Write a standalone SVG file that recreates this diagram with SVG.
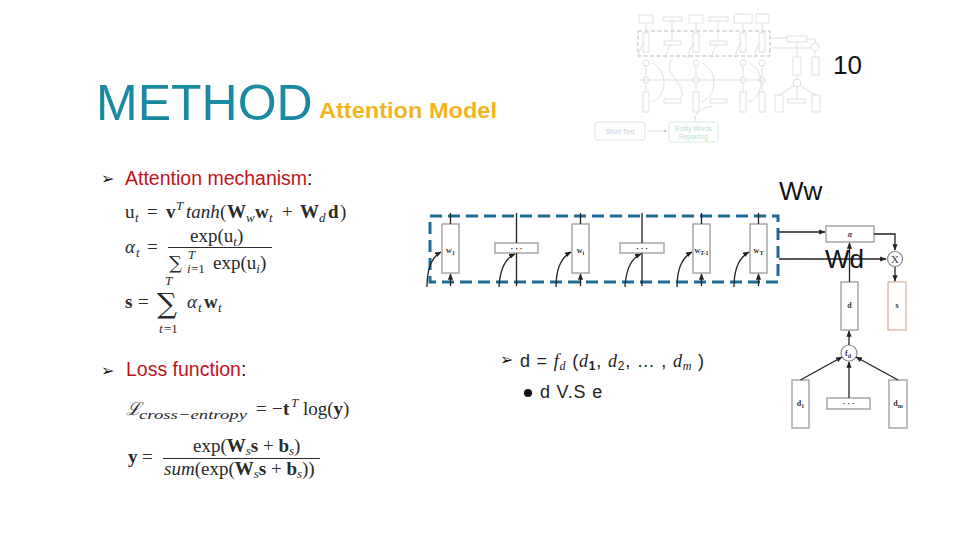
<svg xmlns="http://www.w3.org/2000/svg" width="960" height="540" viewBox="0 0 960 540">
<defs>
<marker id="ah" viewBox="0 0 10 10" refX="9" refY="5" markerWidth="5" markerHeight="5" orient="auto-start-reverse"><path d="M0,1 L10,5 L0,9 z" fill="#222"/></marker>
<marker id="ahs" viewBox="0 0 10 10" refX="9" refY="5" markerWidth="4" markerHeight="4" orient="auto"><path d="M0,1 L10,5 L0,9 z" fill="#9aa"/></marker>
<style>
.title{font-family:"Liberation Sans",Arial,sans-serif;font-size:50px;fill:#1b8aa0}
.sub{font-family:"Liberation Sans",Arial,sans-serif;font-weight:bold;font-size:22px;fill:#f0b51e}
.pg{font-family:"Liberation Sans",Arial,sans-serif;font-size:26px;fill:#111}
.bul{font-family:"Liberation Sans",Arial,sans-serif;font-size:19.5px;fill:#c0141c}
.blk{fill:#111}
.arr{font-family:"DejaVu Sans",sans-serif;font-size:16px;fill:#111}
.m{font-family:"Liberation Serif","Times New Roman",serif;font-size:19px;fill:#2a2a2a}
.ms{font-size:13px;font-style:italic}
.mi{font-style:italic}
.mb{font-weight:bold}
.sum{font-family:"DejaVu Serif",serif;fill:#2a2a2a}
.box{fill:#fff;stroke:#9a9a9a;stroke-width:1.3}
.ln{fill:none;stroke:#222;stroke-width:1.3}
.lbl{font-family:"Liberation Serif",serif;font-weight:bold;font-size:8px;fill:#333;text-anchor:middle}
.dash{fill:none;stroke:#1f6a94;stroke-width:3;stroke-dasharray:12 6}
.wt{font-family:"Liberation Sans",Arial,sans-serif;font-size:18px;fill:#222;letter-spacing:0.8px}
.th{fill:none;stroke:#c4cad0;stroke-width:0.8}
.thb{fill:#fff;stroke:#c4cad0;stroke-width:0.8}
</style>
</defs>
<rect width="960" height="540" fill="#fff"/>

<!-- thumbnail of the model (faint) -->
<g id="thumbnail" opacity="0.7">
 <g class="thb">
  <rect x="639" y="15" width="14" height="8"/><rect x="663" y="17" width="19" height="4"/>
  <rect x="689" y="15" width="14" height="8"/><rect x="709" y="17" width="19" height="4"/>
  <rect x="734" y="14" width="18" height="9"/><rect x="756" y="14" width="13" height="9"/>
  <rect x="643" y="33" width="6" height="19"/><rect x="664" y="41" width="17" height="4"/>
  <rect x="693" y="33" width="6" height="19"/><rect x="710" y="41" width="17" height="4"/>
  <rect x="740" y="33" width="6" height="19"/><rect x="759" y="33" width="6" height="19"/>
  <rect x="643" y="92" width="6" height="20"/><rect x="664" y="99" width="17" height="4"/>
  <rect x="693" y="92" width="6" height="20"/><rect x="710" y="99" width="17" height="4"/>
  <rect x="740" y="92" width="6" height="20"/><rect x="759" y="92" width="6" height="20"/>
  <rect x="787" y="36" width="20" height="6"/>
  <rect x="793" y="57" width="8" height="18"/><rect x="812" y="57" width="7" height="18"/>
  <rect x="775" y="95" width="8" height="17"/><rect x="788" y="99" width="17" height="4"/><rect x="812" y="95" width="8" height="17"/>
  <circle cx="815" cy="47" r="4"/><circle cx="797" cy="83" r="4"/>
  <circle cx="646" cy="63" r="3"/><circle cx="696" cy="63" r="3"/><circle cx="743" cy="63" r="3"/><circle cx="762" cy="63" r="3"/>
  <circle cx="646" cy="80" r="3"/><circle cx="696" cy="80" r="3"/><circle cx="743" cy="80" r="3"/><circle cx="762" cy="80" r="3"/>
 </g>
 <rect x="638" y="31" width="132" height="25" fill="none" stroke="#8aa0b0" stroke-width="1" stroke-dasharray="4 2.5"/>
 <g class="th">
  <path d="M646,23 V33 M672,21 V41 M696,23 V33 M718,21 V41 M743,23 V33 M762,23 V33"/>
  <path d="M638,58 C640,48 642,44 645,43 M666,58 C667,50 669,46 672,45 M688,58 C690,48 692,44 695,43 M712,58 C713,50 715,46 718,45 M735,58 C737,48 739,44 742,43 M754,58 C756,48 758,44 761,43"/>
  <path d="M640,80 H766 M646,66 V77 M696,66 V77 M743,66 V77 M762,66 V77 M646,83 V92 M696,83 V92 M743,83 V92 M762,83 V92"/>
  <path d="M652,102 C668,95 668,70 652,63 M702,102 C718,95 718,70 702,63 M749,102 C765,95 765,70 749,63 M680,99 C690,88 660,70 672,60"/>
  <path d="M770,38 H787 M770,48 H811 M807,39 H815 V43 M815,51 V57 M797,57 V42 M797,79 V75 M779,95 L794,86 M816,95 L800,86 M797,99 V87"/>
  <path d="M695,121 C695,112 700,108 713,106"/>
 </g>
 <rect x="595" y="122" width="50" height="18" rx="3" fill="#fff" stroke="#c8d4e0" stroke-width="0.9"/>
 <text x="620" y="134" font-family="Liberation Sans,sans-serif" font-size="6.5" fill="#a9b9c9" text-anchor="middle">Short Text</text>
 <path d="M647,131 H667" stroke="#b8c8d8" stroke-width="0.8" marker-end="url(#ahs)"/>
 <rect x="669" y="122" width="49" height="20" rx="3" fill="#fff" stroke="#c6e2cc" stroke-width="0.9"/>
 <text x="693.5" y="130.5" font-family="Liberation Sans,sans-serif" font-size="6.5" fill="#9fd0ae" text-anchor="middle">Entity Words</text>
 <text x="693.5" y="139" font-family="Liberation Sans,sans-serif" font-size="6.5" fill="#9fd0ae" text-anchor="middle">Replacing</text>
</g>

<!-- titles -->
<text class="title" x="96" y="120">METHOD</text>
<text class="sub" x="319" y="118" textLength="178" lengthAdjust="spacingAndGlyphs">Attention Model</text>
<text class="pg" x="833" y="74">10</text>

<!-- bullets -->
<text class="arr" x="101" y="184">➢</text>
<text class="bul" x="125" y="185">Attention mechanism<tspan class="blk">:</tspan></text>
<text class="arr" x="101" y="376">➢</text>
<text class="bul" x="126" y="376">Loss function<tspan class="blk">:</tspan></text>

<!-- formulas: attention -->
<text class="m" y="218"><tspan x="125">u</tspan><tspan class="ms" x="135" y="222">t</tspan><tspan x="147" y="218">=</tspan><tspan class="mb" x="166">v</tspan><tspan class="ms" x="176" y="210">T</tspan><tspan class="mi" x="186" y="218">tanh</tspan><tspan x="220">(</tspan><tspan class="mb" x="227">W</tspan><tspan class="ms" x="246" y="222">w</tspan><tspan class="mb" x="255" y="218">w</tspan><tspan class="ms" x="269" y="222">t</tspan><tspan x="282" y="218">+</tspan><tspan class="mb" x="300">W</tspan><tspan class="ms" x="319" y="222">d</tspan><tspan class="mb" x="328" y="218">d</tspan><tspan x="340">)</tspan></text>

<text class="m" y="253"><tspan class="mi" x="125">α</tspan><tspan class="ms" x="136" y="257">t</tspan><tspan x="147" y="253">=</tspan></text>
<text class="m" y="242"><tspan x="190">exp(u</tspan><tspan class="ms" y="246">t</tspan><tspan y="242">)</tspan></text>
<line x1="168" y1="247.5" x2="272" y2="247.5" stroke="#2a2a2a" stroke-width="1"/>
<text class="sum" x="169" y="269" font-size="18">∑</text>
<text class="m" y="269"><tspan class="ms" x="188" y="259">T</tspan><tspan class="ms" x="187" y="273">i</tspan><tspan x="191" y="273" font-size="13">=1</tspan><tspan x="213" y="269">exp(u</tspan><tspan class="ms" y="273">i</tspan><tspan y="269">)</tspan></text>

<text class="m" y="308"><tspan class="mb" x="125">s</tspan><tspan x="138">=</tspan></text>
<text class="sum" x="157" y="313" font-size="28">∑</text>
<text class="m ms" x="165" y="285">T</text>
<text class="m" y="333"><tspan class="ms" x="159">t</tspan><tspan x="164" font-size="13">=1</tspan></text>
<text class="m" y="308"><tspan class="mi" x="187">α</tspan><tspan class="ms" x="198" y="312">t</tspan><tspan class="mb" x="204" y="308">w</tspan><tspan class="ms" x="218" y="312">t</tspan></text>

<!-- formulas: loss -->
<text class="m" y="415"><tspan x="126" font-family="DejaVu Serif,serif" font-size="18" font-style="italic">ℒ</tspan><tspan class="ms" x="139" y="419" font-size="14" textLength="108" lengthAdjust="spacingAndGlyphs">cross−entropy</tspan><tspan x="256" y="415">=</tspan><tspan x="272">−</tspan><tspan class="mb" x="283">t</tspan><tspan class="ms" x="291" y="407">T</tspan><tspan x="303" y="415">log(</tspan><tspan class="mb">y</tspan><tspan>)</tspan></text>

<text class="m" y="463"><tspan class="mb" x="128">y</tspan><tspan x="142">=</tspan></text>
<text class="m" y="452" font-size="16"><tspan x="193">exp(</tspan><tspan class="mb">W</tspan><tspan class="ms" font-size="11" y="455">s</tspan><tspan class="mb" y="452">s</tspan><tspan> + </tspan><tspan class="mb">b</tspan><tspan class="ms" font-size="11" y="455">s</tspan><tspan y="452">)</tspan></text>
<line x1="163" y1="458.5" x2="320" y2="458.5" stroke="#2a2a2a" stroke-width="1"/>
<text class="m" y="475" font-size="16"><tspan class="mi" x="164">sum</tspan><tspan>(exp(</tspan><tspan class="mb">W</tspan><tspan class="ms" font-size="11" y="478">s</tspan><tspan class="mb" y="475">s</tspan><tspan> + </tspan><tspan class="mb">b</tspan><tspan class="ms" font-size="11" y="478">s</tspan><tspan y="475">))</tspan></text>

<!-- middle text -->
<text class="arr" x="500" y="365">➢</text>
<text class="wt" y="367"><tspan x="520">d = </tspan><tspan font-family="Liberation Serif,serif" font-style="italic">f</tspan><tspan font-family="Liberation Serif,serif" font-style="italic" font-size="12" dy="3">d</tspan><tspan dy="-3"> (</tspan><tspan font-family="Liberation Serif,serif" font-style="italic">d</tspan><tspan font-size="12" font-weight="bold" dy="3">1</tspan><tspan dy="-3">, </tspan><tspan font-family="Liberation Serif,serif" font-style="italic">d</tspan><tspan font-size="12" dy="3">2</tspan><tspan dy="-3">, … , </tspan><tspan font-family="Liberation Serif,serif" font-style="italic">d</tspan><tspan font-family="Liberation Serif,serif" font-style="italic" font-size="12" dy="3">m</tspan><tspan dy="-3">  )</tspan></text>
<circle cx="528" cy="393" r="4" fill="#111"/>
<text class="wt" x="540" y="398" letter-spacing="1.5">d  V.S e</text>

<!-- dashed word-level container -->
<rect id="container" class="dash" x="430" y="216" width="348" height="66"/>

<g id="nodes">
 <g id="w1"><rect class="box" x="442" y="224" width="17" height="49"/><text class="lbl" x="450.5" y="253">w<tspan font-size="6" dy="1.5">1</tspan></text></g>
 <g id="dots1"><rect class="box" x="495" y="243" width="43" height="10"/><text class="lbl" x="516.5" y="250.5">· · ·</text></g>
 <g id="wi"><rect class="box" x="572" y="224" width="17" height="49"/><text class="lbl" x="580.5" y="253">w<tspan font-size="6" dy="1.5">i</tspan></text></g>
 <g id="dots2"><rect class="box" x="620" y="243" width="44" height="10"/><text class="lbl" x="642" y="250.5">· · ·</text></g>
 <g id="wT1"><rect class="box" x="693" y="224" width="17" height="49"/><text class="lbl" x="701.5" y="253">w<tspan font-size="6" dy="1.5">T-1</tspan></text></g>
 <g id="wT"><rect class="box" x="750" y="224" width="17" height="49"/><text class="lbl" x="758.5" y="253">w<tspan font-size="6" dy="1.5">T</tspan></text></g>
 <g id="alpha"><rect class="box" x="826" y="226" width="48" height="16"/><text class="lbl" x="850" y="237" font-style="italic">α</text></g>
 <g id="mult"><circle cx="895" cy="259" r="7.5" fill="#fff" stroke="#8a8a8a" stroke-width="1.2"/><text x="895" y="263" font-family="Liberation Serif,serif" font-size="11" fill="#444" text-anchor="middle">X</text></g>
 <g id="dnode"><rect class="box" x="841" y="282" width="17" height="48"/><text class="lbl" x="849.5" y="308">d</text></g>
 <g id="snode"><rect x="888" y="282" width="18" height="48" fill="#fff" stroke="#dab4a4" stroke-width="1.3"/><text class="lbl" x="897" y="308">s</text></g>
 <g id="fd"><circle cx="849" cy="353" r="8" fill="#fff" stroke="#8a8a8a" stroke-width="1.2"/><text class="lbl" x="848" y="356" font-size="9">f<tspan font-size="6" dy="1.5">d</tspan></text></g>
 <g id="d1"><rect class="box" x="792" y="380" width="17" height="48"/><text class="lbl" x="800.5" y="406">d<tspan font-size="6" dy="1.5">1</tspan></text></g>
 <g id="ddots"><rect class="box" x="827" y="398" width="43" height="11"/><text class="lbl" x="848.5" y="406">· · ·</text></g>
 <g id="dm"><rect class="box" x="889" y="380" width="18" height="48"/><text class="lbl" x="898" y="406">d<tspan font-size="6" dy="1.5">m</tspan></text></g>
</g>

<g id="connectors">
 <path class="ln" d="M450.5,213 V224 M580.5,213 V224 M701.5,213 V224 M758.5,213 V224"/>
 <path class="ln" d="M516.5,213 V243 M516.5,253 V286 M642,213 V243 M642,253 V286"/>
 <path class="ln" d="M450.5,286 V274" marker-end="url(#ah)"/>
 <path class="ln" d="M580.5,286 V274" marker-end="url(#ah)"/>
 <path class="ln" d="M701.5,286 V274" marker-end="url(#ah)"/>
 <path class="ln" d="M758.5,286 V274" marker-end="url(#ah)"/>
 <path class="ln" d="M427,287 C427,268 432,257 441,252" marker-end="url(#ah)"/>
 <path class="ln" d="M499,287 C500,268 506,258 515,254" marker-end="url(#ah)"/>
 <path class="ln" d="M556,287 C556,268 562,257 571,252" marker-end="url(#ah)"/>
 <path class="ln" d="M625,287 C626,268 632,258 641,254" marker-end="url(#ah)"/>
 <path class="ln" d="M677,287 C677,268 683,257 692,252" marker-end="url(#ah)"/>
 <path class="ln" d="M734,287 C734,268 740,257 749,252" marker-end="url(#ah)"/>
 <path class="ln" d="M779,232 H825" marker-end="url(#ah)"/>
 <path class="ln" d="M779,259 H886" marker-end="url(#ah)"/>
 <path class="ln" d="M874,234 H895 V250" stroke-width="2" marker-end="url(#ah)"/>
 <path class="ln" d="M895,267 V281" marker-end="url(#ah)"/>
 <path class="ln" d="M849.5,282 V243" marker-end="url(#ah)"/>
 <path class="ln" d="M849,345 V331" marker-end="url(#ah)"/>
 <path class="ln" d="M800.5,380 L842,357" marker-end="url(#ah)"/>
 <path class="ln" d="M898,380 L856,357" marker-end="url(#ah)"/>
 <path class="ln" d="M849,398 V362" marker-end="url(#ah)"/>
</g>

<text class="pg" x="779" y="200">Ww</text>
<text class="pg" x="825" y="268">Wd</text>
</svg>
